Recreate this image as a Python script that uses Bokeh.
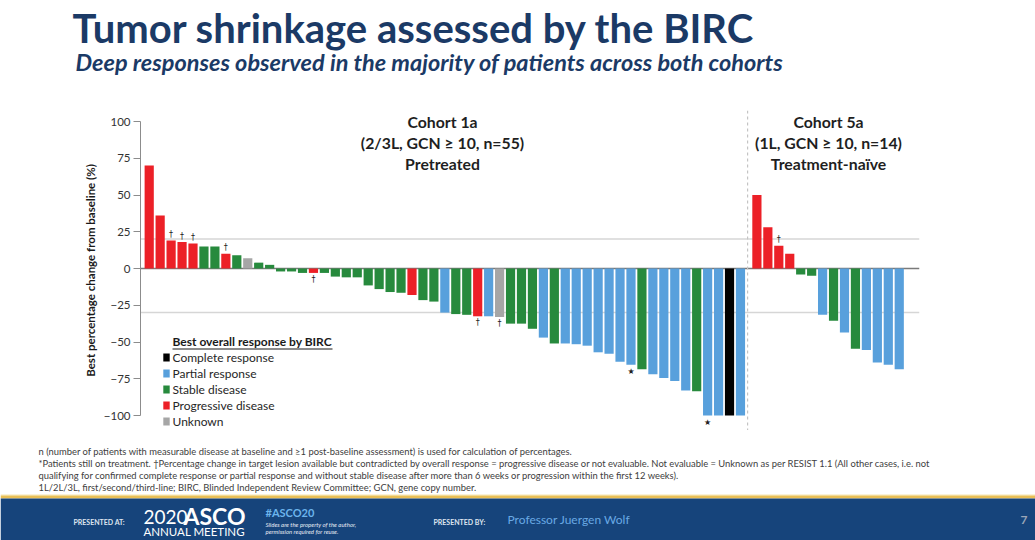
from bokeh.plotting import figure
from bokeh.layouts import column
from bokeh.models import (Range1d, FixedTicker, Label, BoxAnnotation, Legend, LegendItem,
                          ColumnDataSource, Span, CDSView, GroupFilter)
from bokeh.core.properties import value
from bokeh.embed import file_html
from bokeh.resources import INLINE

# ---------------- data ----------------
cohort_1a_values = [70, 36, 19, 18, 17, 15, 15, 10, 9, 7, 4, 2.5, -2, -2, -3, -3, -3, -5.5, -6, -6,
                    -11.5, -14, -16, -16.5, -18, -21.5, -22.5, -30, -31, -31.5, -32.5, -32.5, -33,
                    -37.5, -37.5, -41, -47, -51, -51, -51.5, -52.5, -57, -58, -63.5, -65.5, -68.5,
                    -72, -74.5, -76.5, -83, -83.5, -100, -100, -100, -100]
cohort_1a_response = ["PD", "PD", "PD", "PD", "PD", "SD", "SD", "PD", "SD", "UN", "SD", "SD", "SD", "SD",
                      "SD", "PD", "SD", "SD", "SD", "SD", "SD", "SD", "SD", "SD", "PD", "SD", "SD", "PR",
                      "SD", "SD", "PD", "PR", "UN", "SD", "SD", "SD", "PR", "SD", "PR", "PR", "PR", "PR",
                      "PR", "PR", "PR", "SD", "PR", "PR", "PR", "PR", "SD", "PR", "PR", "CR", "PR"]
cohort_1a_notes = ["", "", "†", "†", "†", "", "", "†", "", "", "", "", "", "", "", "†", "", "", "", "",
                   "", "", "", "", "", "", "", "", "", "", "†", "", "†", "", "", "", "", "", "", "",
                   "", "", "", "", "*", "", "", "", "", "", "", "*", "", "", ""]

cohort_5a_values = [50, 28, 15.5, 10, -4, -5, -31.5, -35.5, -43.5, -54.5, -55.5, -64, -65.5, -68.5]
cohort_5a_response = ["PD", "PD", "PD", "PD", "SD", "SD", "PR", "SD", "PR", "SD", "PR", "PR", "PR", "PR"]
cohort_5a_notes = ["", "", "†", "", "", "", "", "", "", "", "", "", "", ""]

response_codes = ["CR", "PR", "SD", "PD", "UN"]
response_labels = ["Complete response", "Partial response", "Stable disease",
                   "Progressive disease", "Unknown"]
response_colors = ["#000000", "#58a0dc", "#278a3d", "#ec2027", "#a6a6a6"]

y_ticks = [-100, -75, -50, -25, 0, 25, 50, 75, 100]
threshold_lines = [20, -30]

cohort_titles = [["Cohort 1a", "(2/3L, GCN ≥ 10, n=55)", "Pretreated"],
                 ["Cohort 5a", "(1L, GCN ≥ 10, n=14)", "Treatment-naïve"]]

title_text = "Tumor shrinkage assessed by the BIRC"
subtitle_text = "Deep responses observed in the majority of patients across both cohorts"
footnotes = [
    "n (number of patients with measurable disease at baseline and ≥1 post-baseline assessment) is used for calculation of percentages.",
    "*Patients still on treatment. †Percentage change in target lesion available but contradicted by overall response = progressive disease or not evaluable. Not evaluable = Unknown as per RESIST 1.1 (All other cases, i.e. not",
    "qualifying for confirmed complete response or partial response and without stable disease after more than 6 weeks or progression within the first 12 weeks).",
    "1L/2L/3L, first/second/third-line;  BIRC, Blinded Independent  Review Committee; GCN, gene copy number.",
]

FONT = "Lato"
W = 1035
H_TOP, H_MAIN, H_BOT = 110, 320, 110


def blank_figure(h):
    f = figure(width=W, height=h, output_backend="svg", toolbar_location=None,
               x_range=Range1d(0, W), y_range=Range1d(h, 0),
               min_border=0, min_border_left=0, min_border_right=0,
               min_border_top=0, min_border_bottom=0)
    f.axis.visible = False
    f.grid.visible = False
    f.outline_line_color = None
    f.frame_align = False
    return f


def canvas_label(f, x, y, text, size, color="#262626", style="normal", align="left", font=FONT):
    f.add_layout(Label(x=x, y=y, x_units="canvas", y_units="canvas", text=text,
                       text_font=font, text_font_size=size, text_color=color,
                       text_font_style=style, text_align=align, text_baseline="middle"))


def canvas_box(f, left, right, top, bottom, color):
    f.add_layout(BoxAnnotation(left=left, right=right, top=top, bottom=bottom, left_units="canvas",
                               right_units="canvas", top_units="canvas", bottom_units="canvas",
                               fill_color=color, fill_alpha=1, line_color=None, level="underlay"))


# ---------------- header ----------------
top = blank_figure(H_TOP)
NAVY = "#1b3a66"
canvas_label(top, 72, 27, title_text, "40px", NAVY, "bold")
canvas_label(top, 75, 61, subtitle_text, "23.5px", NAVY, "bold italic")

# ---------------- main chart ----------------
n1 = len(cohort_1a_values)
gap = 1.5
xs = [i + 1 for i in range(n1)] + [n1 + gap + i for i in range(len(cohort_5a_values))]
vals = cohort_1a_values + cohort_5a_values
resp = cohort_1a_response + cohort_5a_response
notes = cohort_1a_notes + cohort_5a_notes
cmap = dict(zip(response_codes, response_colors))
src = ColumnDataSource(dict(x=xs, top=vals, response=resp, color=[cmap[r] for r in resp]))

p = figure(width=W, height=H_MAIN, output_backend="svg", toolbar_location=None,
           x_range=Range1d(0.205, 71.35), y_range=Range1d(-110.2, 107.5),
           min_border_left=140, min_border_right=116, min_border_top=0, min_border_bottom=0)
p.frame_align = False
p.outline_line_color = None
p.xgrid.visible = False
p.ygrid.visible = False
p.xaxis.visible = False

ax = p.yaxis[0]
ax.bounds = (-100, 100)
ax.ticker = FixedTicker(ticks=y_ticks)
ax.minor_tick_line_color = None
ax.major_tick_in = 0
ax.major_tick_out = 7
ax.axis_line_color = "#8c8c8c"
ax.major_tick_line_color = "#8c8c8c"
ax.major_label_text_font = FONT
ax.major_label_text_font_size = "11.5px"
ax.major_label_text_color = "#333333"
ax.major_label_standoff = 3
ax.axis_label = "Best percentage change from baseline (%)"
ax.axis_label_text_font = FONT
ax.axis_label_text_font_style = "bold"
ax.axis_label_text_font_size = "11.5px"
ax.axis_label_text_color = "#1a1a1a"
ax.axis_label_standoff = 4

for t in threshold_lines:
    p.add_layout(Span(location=t, dimension="width", line_color="#d6d6d6", line_width=1.5,
                      level="underlay"))
p.add_layout(Span(location=0, dimension="width", line_color="#7a7a7a", line_width=1.5,
                  level="underlay"))
p.add_layout(Span(location=n1 + 0.65, dimension="height", line_color="#c4c4c4",
                  line_width=1.2, line_dash="3 3", level="underlay"))

renderers = {}
for code in response_codes:
    view = CDSView(filter=GroupFilter(column_name="response", group=code))
    renderers[code] = p.vbar(x="x", top="top", bottom=0, width=0.84, source=src, view=view,
                             fill_color="color", line_color=None)

nx, ny, nt, nb = [], [], [], []
for x, v, t in zip(xs, vals, notes):
    if t:
        nx.append(x)
        nt.append("★" if t == "*" else t)
        if v > 0:
            ny.append(v + 1.0); nb.append("bottom")
        else:
            ny.append(v - 1.5); nb.append("top")
p.text(x=nx, y=ny, text=nt, text_baseline=nb, text_align="center", text_font=value("DejaVu Sans"),
       text_font_size="8px", text_color="#222222")

legend = Legend(items=[LegendItem(label=lab, renderers=[renderers[c]])
                       for c, lab in zip(response_codes, response_labels)],
                location=(21.5, 1), padding=0, margin=0, spacing=0, label_height=16,
                glyph_height=10, glyph_width=8, label_standoff=3,
                border_line_color=None, background_fill_alpha=0,
                label_text_font=FONT, label_text_font_size="12px", label_text_color="#262626")
p.add_layout(legend, "center")

OFF = H_TOP
canvas_label(p, 172, 341 - OFF, "Best overall response by BIRC", "12px", "#1a1a1a", "bold")
p.add_layout(BoxAnnotation(left=172, right=332, top=348 - OFF, bottom=349 - OFF, left_units="canvas",
                           right_units="canvas", top_units="canvas", bottom_units="canvas",
                           fill_color="#1a1a1a", fill_alpha=1, line_color=None))

for cx, lines in zip([442, 828], cohort_titles):
    for cy, line in zip([121, 142, 163], lines):
        canvas_label(p, cx, cy - OFF, line, "15.8px", "#1f1f1f", "bold", "center")

# ---------------- footer ----------------
bot = blank_figure(H_BOT)
B = H_TOP + H_MAIN
for fy, line in zip([451, 463, 475, 487], footnotes):
    canvas_label(bot, 38, fy - B, line, "9.4px", "#404040")

canvas_box(bot, 0, W, 494 - B, 495 - B, "#f6e6b0")
canvas_box(bot, 0, W, 495 - B, 498 - B, "#e9bf55")
canvas_box(bot, 0, W, 498 - B, 540 - B, "#16447b")
canvas_label(bot, 73, 521 - B, "PRESENTED AT:", "7px", "#dfe5ef", "bold")
canvas_label(bot, 143, 516 - B, "2020", "19px", "#ffffff", "normal")
canvas_label(bot, 183, 515 - B, "ASCO", "23px", "#ffffff", "bold")
canvas_label(bot, 143, 531 - B, "ANNUAL MEETING", "11.5px", "#ffffff", "normal")
canvas_label(bot, 265, 512 - B, "#ASCO20", "11px", "#6cb4ec", "bold")
canvas_label(bot, 265, 524 - B, "Slides are the property of the author,", "6px", "#e6ebf3", "italic")
canvas_label(bot, 265, 531 - B, "permission required for reuse.", "6px", "#e6ebf3", "italic")
canvas_label(bot, 433, 521 - B, "PRESENTED BY:", "7px", "#dfe5ef", "bold")
canvas_label(bot, 507, 519 - B, "Professor Juergen Wolf", "12px", "#69a9e4", "normal")
canvas_label(bot, 1020, 519 - B, "7", "12px", "#9aa6b8", "bold")

layout = column(top, p, bot, spacing=0)
open("out.html", "w").write(file_html(layout, INLINE))
